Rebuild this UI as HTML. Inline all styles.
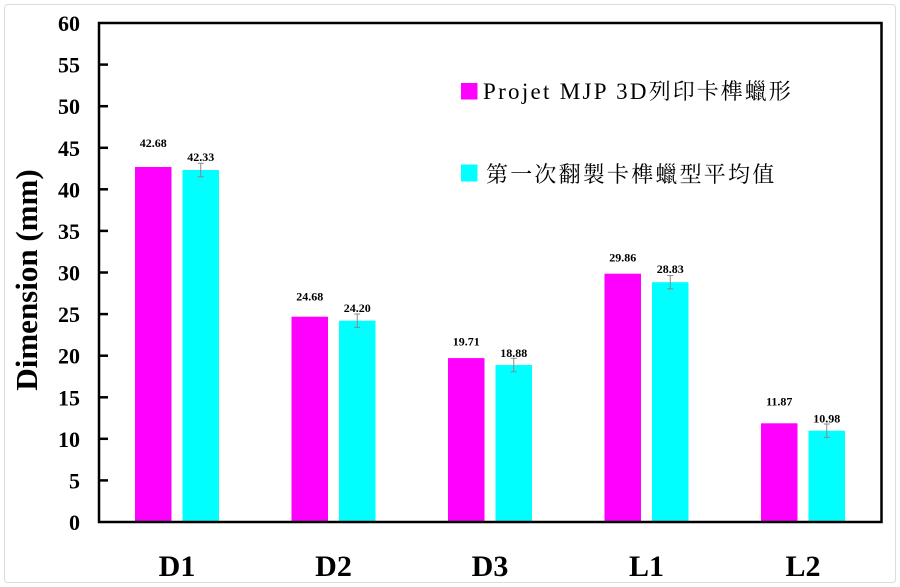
<!DOCTYPE html>
<html>
<head>
<meta charset="utf-8">
<style>
html,body{margin:0;padding:0;background:#fff;}
svg{display:block;}
</style>
</head>
<body>
<svg width="900" height="587" viewBox="0 0 900 587" xmlns="http://www.w3.org/2000/svg">
  <rect x="0" y="0" width="900" height="587" fill="#fff"/>
  <rect x="4.5" y="4.5" width="891" height="578" rx="3" ry="3" fill="none" stroke="#dcdcdc" stroke-width="1"/>

  <!-- bars -->
  <g fill="#ff00ff">
    <rect x="135" y="167.0" width="36.5" height="355"/>
    <rect x="291.5" y="316.7" width="36.5" height="205.3"/>
    <rect x="448" y="358.1" width="36.5" height="163.9"/>
    <rect x="604.5" y="273.7" width="36.5" height="248.3"/>
    <rect x="761" y="423.3" width="36.5" height="98.7"/>
  </g>
  <g fill="#00ffff">
    <rect x="182.5" y="170.0" width="36.5" height="352"/>
    <rect x="339" y="320.7" width="36.5" height="201.3"/>
    <rect x="495.5" y="365.0" width="36.5" height="157"/>
    <rect x="652" y="282.2" width="36.5" height="239.8"/>
    <rect x="808.5" y="430.7" width="36.5" height="91.3"/>
  </g>

  <!-- error bars -->
  <g stroke="#888" stroke-width="1" fill="none">
    <path d="M200.75 163.3V176.7 M197.75 163.3H203.75 M197.75 176.7H203.75"/>
    <path d="M357.25 314.0V327.4 M354.25 314.0H360.25 M354.25 327.4H360.25"/>
    <path d="M513.75 358.3V371.7 M510.75 358.3H516.75 M510.75 371.7H516.75"/>
    <path d="M670.25 275.5V288.9 M667.25 275.5H673.25 M667.25 288.9H673.25"/>
    <path d="M826.75 424.0V437.4 M823.75 424.0H829.75 M823.75 437.4H829.75"/>
  </g>

  <!-- value labels -->
  <g font-family="Liberation Serif, serif" font-weight="bold" font-size="12" text-anchor="middle" fill="#000">
    <text x="153.25" y="147">42.68</text>
    <text x="200.75" y="161">42.33</text>
    <text x="309.75" y="300.7">24.68</text>
    <text x="357.25" y="312">24.20</text>
    <text x="466.25" y="345.7">19.71</text>
    <text x="513.75" y="357">18.88</text>
    <text x="622.75" y="261.5">29.86</text>
    <text x="670.25" y="273">28.83</text>
    <text x="779.25" y="405.5">11.87</text>
    <text x="826.75" y="422.5">10.98</text>
  </g>

  <!-- frame -->
  <rect x="99" y="23" width="782.5" height="499" fill="none" stroke="#000" stroke-width="2.5"/>
  <!-- ticks -->
  <g stroke="#000" stroke-width="2.5">
    <line x1="99" y1="480.4" x2="108" y2="480.4"/>
    <line x1="99" y1="438.8" x2="108" y2="438.8"/>
    <line x1="99" y1="397.3" x2="108" y2="397.3"/>
    <line x1="99" y1="355.7" x2="108" y2="355.7"/>
    <line x1="99" y1="314.1" x2="108" y2="314.1"/>
    <line x1="99" y1="272.5" x2="108" y2="272.5"/>
    <line x1="99" y1="230.9" x2="108" y2="230.9"/>
    <line x1="99" y1="189.3" x2="108" y2="189.3"/>
    <line x1="99" y1="147.8" x2="108" y2="147.8"/>
    <line x1="99" y1="106.2" x2="108" y2="106.2"/>
    <line x1="99" y1="64.6" x2="108" y2="64.6"/>
  </g>

  <!-- y tick labels -->
  <g font-family="Liberation Serif, serif" font-weight="bold" font-size="22" text-anchor="end" fill="#000">
    <text x="80" y="530">0</text>
    <text x="80" y="488.4">5</text>
    <text x="80" y="446.8">10</text>
    <text x="80" y="405.3">15</text>
    <text x="80" y="363.7">20</text>
    <text x="80" y="322.1">25</text>
    <text x="80" y="280.5">30</text>
    <text x="80" y="238.9">35</text>
    <text x="80" y="197.3">40</text>
    <text x="80" y="155.8">45</text>
    <text x="80" y="114.2">50</text>
    <text x="80" y="72.6">55</text>
    <text x="80" y="31">60</text>
  </g>

  <!-- y axis title -->
  <text transform="translate(37,280) rotate(-90)" font-family="Liberation Serif, serif" font-weight="bold" font-size="31" text-anchor="middle" fill="#000">Dimension (mm)</text>

  <!-- category labels -->
  <g font-family="Liberation Serif, serif" font-weight="bold" font-size="30" text-anchor="middle" fill="#000">
    <text x="177" y="576">D1</text>
    <text x="333.5" y="576">D2</text>
    <text x="490" y="576">D3</text>
    <text x="646.5" y="576">L1</text>
    <text x="803" y="576">L2</text>
  </g>

  <!-- legend -->
  <rect x="461" y="83" width="16.5" height="16.5" fill="#ff00ff"/>
  <rect x="461" y="164.5" width="16.5" height="17" fill="#00ffff"/>
  <text x="483" y="99" font-size="23" fill="#000"><tspan font-family="Liberation Serif, serif" letter-spacing="2.3">Projet MJP 3D</tspan><tspan font-family="Noto Serif CJK SC, Noto Serif CJK TC, Noto Sans CJK TC, serif" font-size="22" letter-spacing="2">列印卡榫蠟形</tspan></text>
  <text x="486" y="182" font-family="Noto Serif CJK SC, Noto Serif CJK TC, Noto Sans CJK TC, serif" font-size="22" letter-spacing="2.2" fill="#000">第一次翻製卡榫蠟型平均值</text>
</svg>
</body>
</html>
